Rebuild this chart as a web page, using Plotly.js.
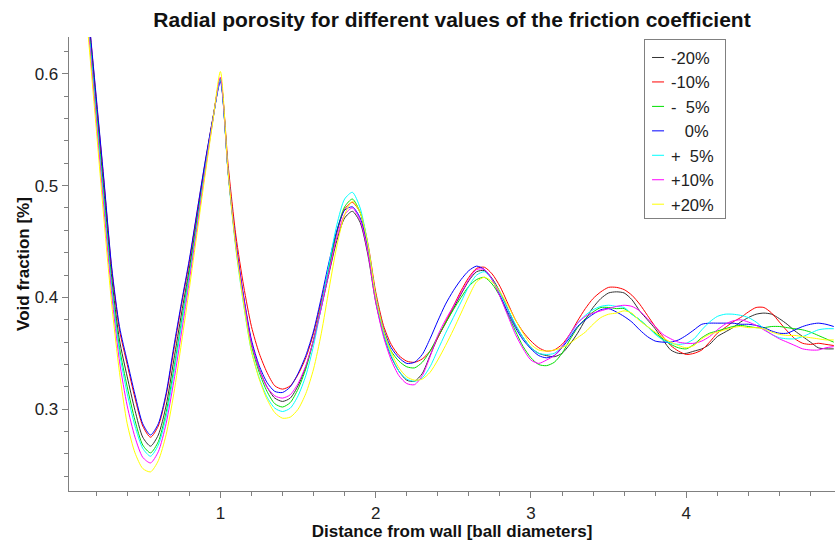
<!DOCTYPE html>
<html>
<head>
<meta charset="utf-8">
<script src="https://cdn.plot.ly/plotly-3.0.1.min.js"></script>
<style>html,body{margin:0;padding:0;background:#fff;}#chart{width:835px;height:541px;}</style>
</head>
<body>
<div id="chart"></div>
<script>
// distance from wall [ball diameters]
const distance = [0.10,0.15,0.20,0.25,0.30,0.35,0.40,0.45,0.50,0.55,0.60,0.65,0.70,0.75,0.80,0.85,0.90,0.95,1.00,
1.05,1.10,1.15,1.20,1.25,1.30,1.35,1.40,1.45,1.50,1.55,1.60,1.65,1.70,1.75,1.80,1.85,
1.90,1.95,2.00,2.05,2.10,2.15,2.20,2.25,2.30,2.35,2.40,2.45,2.50,2.55,2.60,2.65,2.70,
2.75,2.80,2.85,2.90,2.95,3.00,3.05,3.10,3.15,3.20,3.25,3.30,3.35,3.40,3.45,3.50,3.55,
3.60,3.65,3.70,3.75,3.80,3.85,3.90,3.95,4.00,4.05,4.10,4.15,4.20,4.25,4.30,4.35,4.40,4.45,4.50,4.55,4.60,4.65,4.70,4.75,4.80,4.85,4.90,4.95];

const seriesNames = ["-20%", "-10%", "-\u00a0\u00a05%", "\u00a0\u00a0\u00a00%", "+\u00a0\u00a05%", "+10%", "+20%"];

const minus20 = [0.728,0.648,0.572,0.495,0.418,0.362,0.329,0.299,0.275,0.267,0.277,0.303,0.344,0.386,0.426,0.471,0.517,0.558,0.595,
0.512,0.447,0.399,0.360,0.336,0.320,0.310,0.307,0.310,0.321,0.338,0.362,0.391,0.422,0.451,0.471,0.477,
0.467,0.438,0.396,0.367,0.347,0.334,0.326,0.325,0.332,0.348,0.364,0.377,0.390,0.403,0.415,0.423,0.424,
0.417,0.405,0.390,0.375,0.364,0.355,0.350,0.348,0.347,0.350,0.358,0.368,0.380,0.391,0.399,0.404,0.405,
0.404,0.398,0.388,0.380,0.372,0.362,0.353,0.350,0.350,0.352,0.354,0.358,0.365,0.369,0.373,0.378,0.382,0.385,0.386,0.385,0.381,0.376,0.370,0.365,0.360,0.355,0.354,0.354];

const minus10 = [0.734,0.654,0.578,0.503,0.425,0.371,0.340,0.310,0.285,0.275,0.285,0.312,0.353,0.394,0.432,0.476,0.519,0.559,0.595,
0.518,0.455,0.410,0.374,0.350,0.333,0.321,0.318,0.321,0.331,0.346,0.368,0.397,0.428,0.458,0.479,0.485,
0.476,0.448,0.405,0.375,0.358,0.348,0.343,0.342,0.345,0.352,0.364,0.378,0.392,0.406,0.418,0.426,0.427,
0.421,0.410,0.395,0.380,0.369,0.361,0.355,0.352,0.353,0.358,0.367,0.379,0.390,0.399,0.405,0.409,0.409,
0.407,0.402,0.394,0.384,0.374,0.365,0.357,0.352,0.349,0.350,0.353,0.360,0.368,0.373,0.378,0.382,0.387,0.391,0.391,0.386,0.378,0.370,0.363,0.359,0.358,0.359,0.358,0.357];

const minus5 = [0.724,0.644,0.567,0.489,0.412,0.355,0.320,0.290,0.268,0.261,0.271,0.297,0.336,0.379,0.422,0.468,0.514,0.558,0.596,
0.512,0.446,0.397,0.357,0.333,0.316,0.305,0.302,0.306,0.318,0.336,0.362,0.393,0.427,0.459,0.481,0.488,
0.476,0.445,0.400,0.370,0.352,0.343,0.338,0.337,0.342,0.352,0.365,0.377,0.389,0.400,0.410,0.416,0.418,
0.412,0.401,0.385,0.370,0.356,0.346,0.340,0.339,0.342,0.350,0.362,0.373,0.381,0.387,0.391,0.391,0.390,
0.390,0.385,0.380,0.374,0.368,0.363,0.358,0.355,0.354,0.358,0.364,0.368,0.370,0.372,0.374,0.375,0.374,0.373,0.373,0.374,0.374,0.373,0.372,0.371,0.369,0.366,0.363,0.360];

const zero = [0.735,0.655,0.580,0.505,0.427,0.374,0.343,0.313,0.287,0.277,0.287,0.314,0.356,0.396,0.434,0.477,0.520,0.559,0.593,
0.512,0.448,0.401,0.362,0.339,0.324,0.316,0.315,0.320,0.332,0.348,0.370,0.400,0.432,0.460,0.478,0.481,
0.471,0.444,0.402,0.372,0.355,0.346,0.341,0.342,0.349,0.363,0.379,0.394,0.406,0.416,0.424,0.428,0.425,
0.416,0.402,0.387,0.373,0.362,0.354,0.348,0.346,0.348,0.355,0.364,0.374,0.380,0.385,0.389,0.390,0.387,
0.383,0.378,0.371,0.365,0.361,0.360,0.360,0.362,0.366,0.371,0.376,0.377,0.377,0.377,0.377,0.376,0.376,0.375,0.373,0.370,0.368,0.368,0.371,0.374,0.376,0.377,0.376,0.374];

const plus5 = [0.722,0.642,0.564,0.485,0.409,0.351,0.314,0.285,0.265,0.258,0.268,0.293,0.332,0.376,0.419,0.466,0.513,0.557,0.595,
0.510,0.443,0.393,0.352,0.328,0.311,0.301,0.298,0.301,0.312,0.330,0.357,0.392,0.430,0.465,0.488,0.494,
0.480,0.447,0.400,0.368,0.348,0.334,0.327,0.325,0.328,0.338,0.353,0.368,0.382,0.396,0.410,0.420,0.423,
0.416,0.404,0.390,0.376,0.364,0.355,0.350,0.349,0.350,0.356,0.366,0.377,0.384,0.389,0.392,0.393,0.392,
0.391,0.385,0.380,0.374,0.367,0.362,0.359,0.358,0.359,0.363,0.371,0.378,0.383,0.385,0.385,0.384,0.382,0.378,0.372,0.367,0.364,0.363,0.363,0.365,0.368,0.371,0.372,0.372];

const plus10 = [0.718,0.638,0.559,0.479,0.403,0.343,0.303,0.275,0.257,0.252,0.262,0.287,0.325,0.369,0.415,0.463,0.511,0.557,0.597,
0.512,0.446,0.398,0.359,0.336,0.320,0.312,0.310,0.313,0.323,0.339,0.362,0.391,0.423,0.454,0.474,0.480,
0.469,0.440,0.396,0.365,0.344,0.330,0.323,0.322,0.330,0.347,0.366,0.380,0.392,0.404,0.416,0.425,0.425,
0.416,0.401,0.384,0.367,0.354,0.344,0.341,0.344,0.348,0.356,0.367,0.377,0.383,0.386,0.388,0.390,0.392,
0.393,0.392,0.388,0.381,0.374,0.367,0.363,0.360,0.359,0.359,0.361,0.365,0.371,0.376,0.379,0.380,0.378,0.375,0.371,0.367,0.363,0.360,0.357,0.354,0.353,0.353,0.355,0.356];

const plus20 = [0.712,0.632,0.552,0.470,0.394,0.333,0.287,0.261,0.247,0.244,0.254,0.277,0.314,0.360,0.408,0.458,0.508,0.556,0.602,
0.512,0.444,0.394,0.352,0.327,0.309,0.297,0.292,0.293,0.300,0.314,0.336,0.368,0.408,0.446,0.474,0.486,
0.476,0.447,0.402,0.371,0.351,0.337,0.329,0.326,0.327,0.333,0.344,0.357,0.371,0.386,0.401,0.414,0.418,
0.414,0.405,0.393,0.380,0.368,0.358,0.353,0.352,0.353,0.355,0.359,0.364,0.369,0.376,0.382,0.385,0.386,
0.388,0.386,0.379,0.374,0.369,0.364,0.360,0.357,0.355,0.357,0.363,0.367,0.369,0.371,0.373,0.374,0.373,0.373,0.372,0.369,0.367,0.366,0.366,0.365,0.364,0.363,0.362,0.362];

const seriesValues = [minus20, minus10, minus5, zero, plus5, plus10, plus20];
const seriesColors = ["#333333", "#ff0000", "#00e000", "#0000ff", "#00ffff", "#ff00ff", "#ffff00"];

const traces = seriesValues.map((vals, i) => ({
  x: distance,
  y: vals,
  type: "scatter",
  mode: "lines",
  name: seriesNames[i],
  line: {color: seriesColors[i], width: 1, shape: "spline", smoothing: 0.7}
}));

const FONT = "Liberation Sans, Arial, Helvetica, sans-serif";
const layout = {
  width: 835, height: 541,
  margin: {l: 69, r: 0, t: 37, b: 50, pad: 0},
  paper_bgcolor: "#ffffff", plot_bgcolor: "#ffffff",
  font: {family: FONT, size: 17, color: "#222"},
  showlegend: true,
  title: {text: "<b>Radial porosity for different values of the friction coefficient</b>",
          font: {family: FONT, size: 21, color: "#111"},
          x: 0.5, xref: "paper", y: 0.964, yref: "container", yanchor: "middle"},
  xaxis: {
    range: [0.025, 4.958], tickmode: "linear", tick0: 0, dtick: 1, tickformat: "d",
    ticks: "outside", ticklen: 6, tickcolor: "#808080", tickwidth: 1,
    minor: {dtick: 0.2, tick0: 0, ticks: "outside", ticklen: 4, tickcolor: "#808080", tickwidth: 1},
    showline: true, linecolor: "#808080", linewidth: 1.3,
    showgrid: false, zeroline: false,
    tickfont: {family: FONT, size: 17, color: "#222"},
    title: {text: "<b>Distance from wall [ball diameters]</b>", font: {family: FONT, size: 17, color: "#111"}, standoff: 0}
  },
  yaxis: {
    range: [0.2269, 0.6329], tickmode: "linear", tick0: 0, dtick: 0.1, tickformat: ".1f",
    ticks: "outside", ticklen: 6, tickcolor: "#808080", tickwidth: 1,
    minor: {dtick: 0.02, tick0: 0, ticks: "outside", ticklen: 4, tickcolor: "#808080", tickwidth: 1},
    showline: true, linecolor: "#808080", linewidth: 1.3,
    showgrid: false, zeroline: false,
    tickfont: {family: FONT, size: 17, color: "#222"},
    title: {text: "<b>Void fraction [%]</b>", font: {family: FONT, size: 17, color: "#111"}, standoff: 0}
  },
  legend: {
    x: 0.7507, y: 0.995, xanchor: "left", yanchor: "top",
    bgcolor: "#ffffff", bordercolor: "#808080", borderwidth: 1,
    font: {family: FONT, size: 16.5, color: "#222"},
    tracegroupgap: 0, itemwidth: 30
  }
};

Plotly.newPlot("chart", traces, layout, {displayModeBar: false, staticPlot: true}).then(gd => {
  // shorten legend line samples to match the compact legend of the original chart
  try {
    const shift = 14;
    gd.querySelectorAll(".legend .traces path.js-line").forEach(p => p.setAttribute("d", "M7,0h12"));
    gd.querySelectorAll(".legend .traces text.legendtext").forEach(t => {
      const x = parseFloat(t.getAttribute("x") || "40");
      t.setAttribute("x", x - shift);
      t.querySelectorAll("tspan[x]").forEach(ts => ts.setAttribute("x", parseFloat(ts.getAttribute("x")) - shift));
    });
    const bg = gd.querySelector(".legend rect.bg");
    if (bg) {
      bg.setAttribute("width", parseFloat(bg.getAttribute("width")) - 8);
      bg.setAttribute("height", parseFloat(bg.getAttribute("height")) - 4);
    }
  } catch (e) {}
});
</script>
</body>
</html>
